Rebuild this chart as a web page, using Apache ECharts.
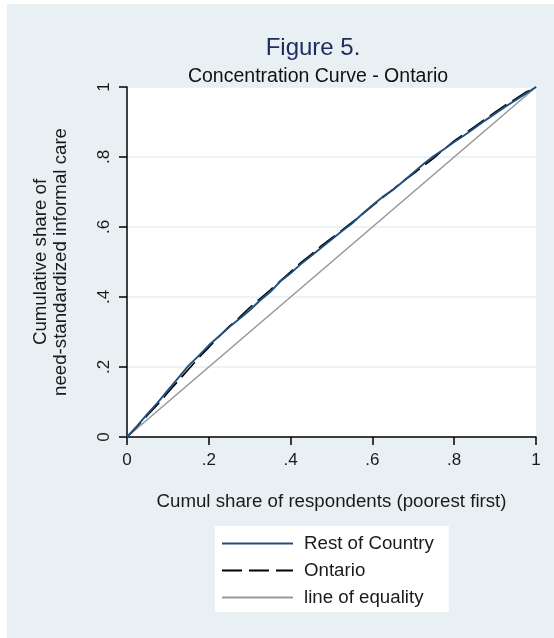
<!DOCTYPE html>
<html>
<head>
<meta charset="utf-8">
<script src="https://cdn.jsdelivr.net/npm/echarts@6/dist/echarts.min.js"></script>
<style>
html,body{margin:0;padding:0;background:#fff;}
#chart{width:554px;height:638px;}
</style>
</head>
<body>
<div id="chart"></div>
<script>
const shareX = [0,0.025,0.05,0.075,0.1,0.125,0.15,0.175,0.2,0.225,0.25,0.275,0.3,0.325,0.35,0.375,0.4,0.425,0.45,0.475,0.5,0.525,0.55,0.575,0.6,0.625,0.65,0.675,0.7,0.725,0.75,0.775,0.8,0.825,0.85,0.875,0.9,0.925,0.95,0.975,1];
const restOfCountry = [0,0.032,0.066,0.098,0.134,0.168,0.203,0.232,0.262,0.288,0.314,0.338,0.362,0.39,0.414,0.445,0.468,0.494,0.517,0.541,0.564,0.588,0.61,0.637,0.662,0.686,0.706,0.73,0.755,0.78,0.803,0.822,0.843,0.862,0.883,0.904,0.924,0.944,0.962,0.981,1];
const ontario = [0,0.03,0.062,0.093,0.127,0.16,0.193,0.226,0.256,0.287,0.316,0.342,0.37,0.395,0.42,0.446,0.472,0.498,0.521,0.546,0.568,0.59,0.613,0.636,0.66,0.684,0.707,0.731,0.752,0.775,0.797,0.822,0.846,0.866,0.887,0.908,0.928,0.948,0.966,0.985,1];
const equalityX = [0,1];
const equalityY = [0,1];
const tickValues = [0,0.2,0.4,0.6,0.8,1];
const tickLabels = ['0','.2','.4','.6','.8','1'];
const seriesNames = ['Rest of Country','Ontario','line of equality'];

function pairs(xs, ys){ return xs.map((x,i)=>[x, ys[i]]); }
function fmt(v){ const i = tickValues.findIndex(t=>Math.abs(t-v)<1e-9); return i>=0 ? tickLabels[i] : ''; }

const FONT = '"Liberation Sans", Arial, sans-serif';
const chart = echarts.init(document.getElementById('chart'), null, {renderer:'canvas'});
chart.setOption({
  backgroundColor:'#ffffff',
  animation:false,
  textStyle:{fontFamily:FONT},
  graphic:[{type:'rect', z:-10, silent:true, shape:{x:7,y:4,width:560,height:640}, style:{fill:'#e8f0f3'}}],
  title:[
    {text:'Figure 5.', left:308, top:31, textAlign:'center', textStyle:{fontFamily:FONT, fontSize:24, fontWeight:'normal', color:'#1e2b5e', lineHeight:24}},
    {text:'Concentration Curve - Ontario', left:313, top:62, textAlign:'center', textStyle:{fontFamily:FONT, fontSize:19.5, fontWeight:'normal', color:'#111', lineHeight:20}}
  ],
  grid:{left:127, top:87, right:18, bottom:201, show:true, backgroundColor:'#ffffff', borderWidth:0},
  legend:{
    orient:'vertical', left:215, top:526,
    backgroundColor:'#ffffff', padding:[8,15,5,6],
    itemWidth:71, itemHeight:14, itemGap:8,
    itemStyle:{opacity:0},
    textStyle:{fontFamily:FONT, fontSize:18.7, color:'#1a1a1a', padding:[0,0,0,6]},
    data:seriesNames
  },
  xAxis:{
    type:'value', min:0, max:1, interval:0.2,
    name:'Cumul share of respondents (poorest first)', nameLocation:'middle', nameGap:55,
    nameTextStyle:{fontFamily:FONT, fontSize:18.7, color:'#1a1a1a'},
    axisLine:{show:true, onZero:false, lineStyle:{color:'#000', width:1.5}},
    axisTick:{show:true, length:8, lineStyle:{color:'#000', width:1.5}},
    axisLabel:{formatter:fmt, fontFamily:FONT, fontSize:17, color:'#1a1a1a', margin:15},
    splitLine:{show:false}
  },
  yAxis:{
    type:'value', min:0, max:1, interval:0.2,
    name:'Cumulative share of\nneed-standardized informal care', nameLocation:'middle', nameGap:56, nameRotate:90,
    nameTextStyle:{fontFamily:FONT, fontSize:18.7, color:'#1a1a1a', lineHeight:20},
    axisLine:{show:true, onZero:false, lineStyle:{color:'#000', width:1.5}},
    axisTick:{show:true, length:8, lineStyle:{color:'#000', width:1.5}},
    axisLabel:{formatter:fmt, rotate:90, fontFamily:FONT, fontSize:17, color:'#1a1a1a', margin:14},
    splitLine:{show:true, lineStyle:{color:'#e6eef2', width:1.5}}
  },
  series:[
    {name:seriesNames[0], type:'line', data:pairs(shareX, restOfCountry), symbol:'none', z:4, lineStyle:{color:'#1f4f7e', width:1.9}, itemStyle:{color:'#1f4f7e'}},
    {name:seriesNames[1], type:'line', data:pairs(shareX, ontario), symbol:'none', z:3, lineStyle:{color:'#000', width:1.6, type:[20,7]}, itemStyle:{color:'#000'}},
    {name:seriesNames[2], type:'line', data:pairs(equalityX, equalityY), symbol:'none', z:2, lineStyle:{color:'#999999', width:1.6}, itemStyle:{color:'#999999'}}
  ]
});
</script>
</body>
</html>
